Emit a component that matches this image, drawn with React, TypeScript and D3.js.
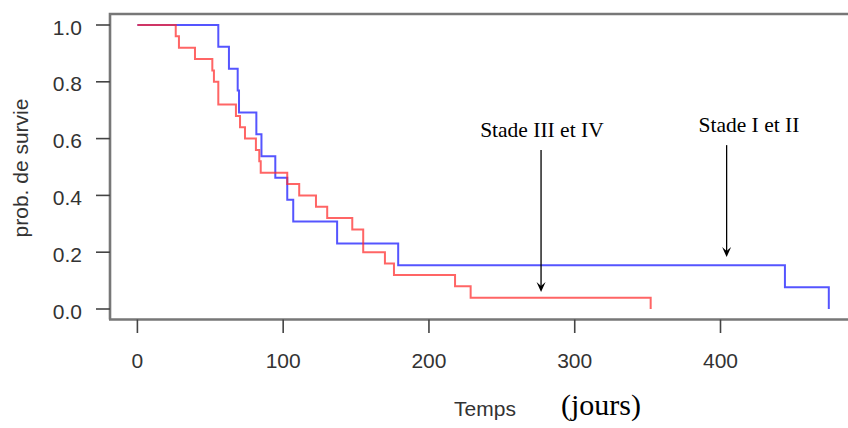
import React from "react";
import * as d3 from "d3";

const blueTimes = [0, 55.5, 62.8, 68.8, 69.7, 81.6, 85.1, 94.6, 102.8, 106.9, 137.0, 178.9, 444.2, 474.3];
const blueSurv = [1, 0.923, 0.846, 0.769, 0.692, 0.615, 0.538, 0.462, 0.385, 0.308, 0.231, 0.154, 0.077, 0];
const redTimes = [0, 26.3, 28.5, 39.5, 51.4, 52.5, 55.5, 67.6, 70.4, 73.8, 81.3, 83.6, 84.6, 102.8, 111.0, 122.5, 130.2, 147.4, 154.9, 169.8, 176.0, 217.9, 228.6, 352.1];
const redSurv = [1, 0.96, 0.92, 0.88, 0.84, 0.8, 0.72, 0.68, 0.64, 0.6, 0.56, 0.52, 0.48, 0.44, 0.4, 0.36, 0.32, 0.28, 0.2, 0.16, 0.12, 0.08, 0.04, 0];
const xTicks = [0, 100, 200, 300, 400];
const yTicks = [0, 0.2, 0.4, 0.6, 0.8, 1.0];
const annotations = [
  { label: "Stade III et IV", textT: 277.5, textP: 0.607, fromP: 0.56, toP: 0.06, arrowT: 276.9 },
  { label: "Stade I et II", textT: 419.5, textP: 0.624, fromP: 0.577, toP: 0.183, arrowT: 404.2 },
];

export default function App() {
  const x = d3.scaleLinear().domain([0, 400]).range([137.4, 720.5]);
  const y = d3.scaleLinear().domain([0, 1]).range([309, 25]);
  const line = d3
    .line<[number, number]>()
    .x((d) => x(d[0]))
    .y((d) => y(d[1]))
    .curve(d3.curveStepAfter);
  const blue = line(blueTimes.map((t, i) => [t, blueSurv[i]]));
  const red = line(redTimes.map((t, i) => [t, redSurv[i]]));
  const sans = "'Liberation Sans', Arial, sans-serif";
  const serif = "'Liberation Serif', 'Times New Roman', serif";
  const left = 110;
  const top = 14;
  const bottom = 319.5;

  return (
    <svg
      width={848}
      height={428}
      style={{ position: "absolute", left: 0, top: 0, background: "#fff" }}
    >
      {/* frame */}
      <path
        d={`M${left},${bottom} L${left},${top} L860,${top} M${left - 1},${bottom} L860,${bottom}`}
        fill="none"
        stroke="#777"
        strokeWidth={2.6}
      />
      {/* y axis ticks */}
      {yTicks.map((v) => (
        <g key={"y" + v}>
          <line x1={96} x2={left} y1={y(v)} y2={y(v)} stroke="#444" strokeWidth={1.6} />
          <text
            x={82}
            y={y(v) + 9.5}
            textAnchor="end"
            fontFamily={sans}
            fontSize={21}
            fill="#333"
          >
            {v.toFixed(1)}
          </text>
        </g>
      ))}
      {/* x axis ticks */}
      {xTicks.map((v) => (
        <g key={"x" + v}>
          <line x1={x(v)} x2={x(v)} y1={bottom} y2={333} stroke="#444" strokeWidth={1.6} />
          <text
            x={x(v)}
            y={367.5}
            textAnchor="middle"
            fontFamily={sans}
            fontSize={21}
            fill="#333"
          >
            {v}
          </text>
        </g>
      ))}
      <text
        transform="translate(28,168) rotate(-90)"
        textAnchor="middle"
        fontFamily={sans}
        fontSize={21}
        fill="#333"
      >
        prob. de survie
      </text>
      <text x={485} y={416} textAnchor="middle" fontFamily={sans} fontSize={21} fill="#333">
        Temps
      </text>
      <text x={601} y={415} textAnchor="middle" fontFamily={serif} fontSize={30} fill="#000">
        (jours)
      </text>
      {/* curves */}
      <path d={blue ?? ""} fill="none" stroke="#2a2aff" strokeWidth={2} strokeOpacity={0.8} />
      <path d={red ?? ""} fill="none" stroke="#ff2a2a" strokeWidth={2} strokeOpacity={0.72} />
      {/* annotations */}
      {annotations.map((a) => {
        const ax = x(a.arrowT);
        const ty = y(a.toP);
        return (
          <g key={a.label}>
            <text
              x={x(a.textT)}
              y={y(a.textP)}
              textAnchor="middle"
              fontFamily={serif}
              fontSize={21.5}
              fill="#000"
            >
              {a.label}
            </text>
            <line x1={ax} x2={ax} y1={y(a.fromP)} y2={ty - 3} stroke="#000" strokeWidth={1.3} />
            <path
              d={`M${ax},${ty} L${ax - 4.5},${ty - 10} L${ax},${ty - 6} L${ax + 4.5},${ty - 10} Z`}
              fill="#000"
            />
          </g>
        );
      })}
    </svg>
  );
}
